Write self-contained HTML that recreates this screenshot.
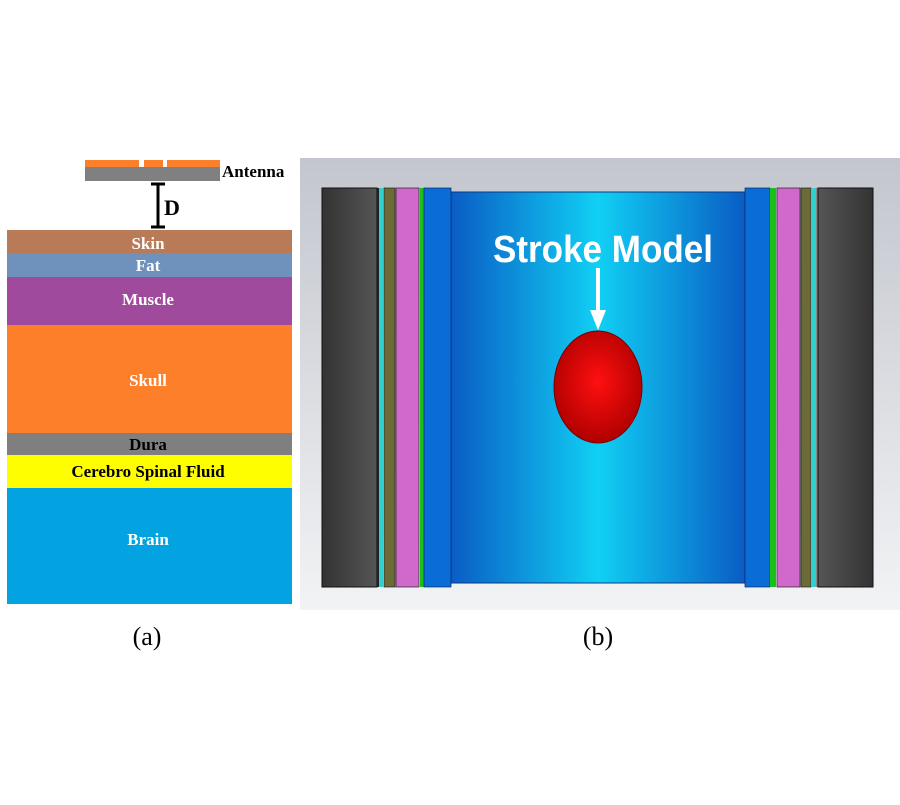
<!DOCTYPE html>
<html><head><meta charset="utf-8"><style>
html,body{margin:0;padding:0;background:#fff;}
</style></head><body>
<svg width="900" height="800" viewBox="0 0 900 800" xmlns="http://www.w3.org/2000/svg">
<defs>
<linearGradient id="bg" x1="0" y1="0" x2="0" y2="1">
<stop offset="0" stop-color="#c3c6ce"/><stop offset="1" stop-color="#f2f3f5"/></linearGradient>
<linearGradient id="cb" x1="0" y1="0" x2="1" y2="0">
<stop offset="0" stop-color="#0a5cc4"/><stop offset="0.5" stop-color="#10d0f4"/><stop offset="1" stop-color="#0a5cc4"/></linearGradient>
<linearGradient id="gr" x1="0" y1="0" x2="1" y2="0">
<stop offset="0" stop-color="#333"/><stop offset="1" stop-color="#555"/></linearGradient>
<linearGradient id="gr2" x1="0" y1="0" x2="1" y2="0">
<stop offset="0" stop-color="#555"/><stop offset="1" stop-color="#333"/></linearGradient>
<radialGradient id="rd" cx="0.5" cy="0.45" r="0.55">
<stop offset="0" stop-color="#ff1010"/><stop offset="1" stop-color="#b00000"/></radialGradient>
</defs>
<!-- panel a -->
<rect x="85" y="160" width="54" height="7" fill="#fc7f2a"/>
<rect x="144" y="160" width="19" height="7" fill="#fc7f2a"/>
<rect x="167" y="160" width="53" height="7" fill="#fc7f2a"/>
<rect x="85" y="167" width="135" height="14" fill="#808080"/>
<text x="222" y="177" font-family="Liberation Serif,serif" font-weight="bold" font-size="17">Antenna</text>
<line x1="158" y1="183" x2="158" y2="228" stroke="#000" stroke-width="3"/>
<line x1="151" y1="184" x2="165" y2="184" stroke="#000" stroke-width="3"/>
<line x1="151" y1="227" x2="165" y2="227" stroke="#000" stroke-width="3"/>
<text x="164" y="215" font-family="Liberation Serif,serif" font-weight="bold" font-size="22">D</text>
<rect x="7" y="230" width="285" height="23" fill="#b87a57"/>
<rect x="7" y="253" width="285" height="24" fill="#6f92bd"/>
<rect x="7" y="277" width="285" height="48" fill="#a04a9e"/>
<rect x="7" y="325" width="285" height="108" fill="#fd7f2a"/>
<rect x="7" y="433" width="285" height="22" fill="#7f7f7f"/>
<rect x="7" y="455" width="285" height="33" fill="#fffe00"/>
<rect x="7" y="488" width="285" height="116" fill="#02a3e0"/>
<g font-family="Liberation Serif,serif" font-weight="bold" font-size="17" text-anchor="middle">
<text x="148" y="249" fill="#fff">Skin</text>
<text x="148" y="271" fill="#fff">Fat</text>
<text x="148" y="305" fill="#fff">Muscle</text>
<text x="148" y="386" fill="#fff">Skull</text>
<text x="148" y="450" fill="#000">Dura</text>
<text x="148" y="477" fill="#000">Cerebro Spinal Fluid</text>
<text x="148" y="545" fill="#fff">Brain</text>
</g>
<!-- panel b -->
<rect x="300" y="158" width="600" height="452" fill="url(#bg)"/>
<rect x="451" y="192" width="294" height="391" fill="url(#cb)" stroke="#0a3a80" stroke-width="1"/>
<rect x="322" y="188" width="55" height="399" fill="url(#gr)" stroke="#111" stroke-width="1"/>
<rect x="377" y="188" width="2" height="399" fill="#222"/>
<rect x="379" y="188" width="4" height="399" fill="#2ed0d0"/>
<rect x="384" y="188" width="11" height="399" fill="#6b6a38" stroke="#222" stroke-width="0.7"/>
<rect x="396" y="188" width="23" height="399" fill="#d069c9" stroke="#222" stroke-width="0.7"/>
<rect x="420" y="188" width="4" height="399" fill="#18c018"/>
<rect x="424" y="188" width="27" height="399" fill="#0a6cd6" stroke="#0a2a60" stroke-width="0.7"/>
<rect x="745" y="188" width="25" height="399" fill="#0a6cd6" stroke="#0a2a60" stroke-width="0.7"/>
<rect x="770" y="188" width="6" height="399" fill="#18c018"/>
<rect x="777" y="188" width="23" height="399" fill="#d069c9" stroke="#222" stroke-width="0.7"/>
<rect x="801" y="188" width="10" height="399" fill="#6b6a38" stroke="#222" stroke-width="0.7"/>
<rect x="811" y="188" width="5" height="399" fill="#2ed0d0"/>
<rect x="816" y="188" width="2" height="399" fill="#888"/>
<rect x="818" y="188" width="55" height="399" fill="url(#gr2)" stroke="#111" stroke-width="1"/>
<text x="603" y="262" font-family="Liberation Sans,sans-serif" font-weight="bold" font-size="38" fill="#fff" text-anchor="middle" textLength="220" lengthAdjust="spacingAndGlyphs">Stroke Model</text>
<line x1="598" y1="268" x2="598" y2="312" stroke="#fff" stroke-width="4"/>
<polygon points="590,310 606,310 598,330" fill="#fff"/>
<ellipse cx="598" cy="387" rx="44" ry="56" fill="url(#rd)" stroke="#700" stroke-width="1"/>
<text x="147" y="645" font-family="Liberation Serif,serif" font-size="26" text-anchor="middle">(a)</text>
<text x="598" y="645" font-family="Liberation Serif,serif" font-size="26" text-anchor="middle">(b)</text>
</svg>
</body></html>
